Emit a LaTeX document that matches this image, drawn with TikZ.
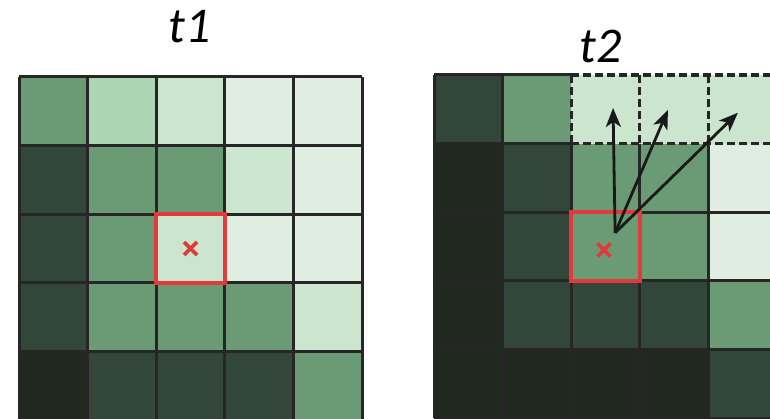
\documentclass[tikz,border=0pt]{standalone}
\usepackage{fontspec}
\setmainfont{Carlito}
\usetikzlibrary{arrows.meta}
\definecolor{gDarkest}{HTML}{212820}
\definecolor{gDark}{HTML}{32463A}
\definecolor{gMid}{HTML}{6A9B74}
\definecolor{gSoft}{HTML}{ACD5B4}
\definecolor{gLight}{HTML}{CBE5CF}
\definecolor{gPale}{HTML}{DFEEE0}
\definecolor{markred}{HTML}{E03A3B}
\begin{document}
\begin{tikzpicture}[x=1pt,y=-1pt,
		gridline/.style={line width=3pt,black!85},
		dashline/.style={line width=3.2pt,black!85,dash pattern=on 8pt off 4pt},
		focusbox/.style={draw=markred,line width=4.5pt},
		crossmark/.style={markred,line width=3.6pt},
		motion/.style={line width=2.8pt,black!90,-{Stealth[length=19pt,width=15pt,inset=5pt]}},
		frametitle/.style={font=\fontsize{50}{60}\selectfont\itshape,anchor=base,inner sep=0pt}]
		\useasboundingbox (0,0) rectangle (770,419);
		\clip (0,0) rectangle (770,419);
		
		\node[frametitle] (t1) at (190,43) {t1};
		\node[frametitle] (t2) at (601,63) {t2};
		
		% frame t1
		\begin{scope}[shift={(19,77)},x=68.6pt,y=-68.6pt]
			\foreach \cols [count=\r] in {{gMid,gSoft,gLight,gPale,gPale},{gDark,gMid,gMid,gLight,gPale},{gDark,gMid,gLight,gPale,gPale},{gDark,gMid,gMid,gMid,gLight},{gDarkest,gDark,gDark,gDark,gMid}}
				\foreach \c [count=\k] in \cols
					\fill[\c] (\k-1,\r-1) rectangle (\k,\r);
			\foreach \i in {0,...,5} {
				\draw[gridline] (\i,0) -- (\i,5);
				\draw[gridline] (0,\i) -- (5,\i);
			}
			\draw[focusbox] (2,2) rectangle (3,3);
			\coordinate (cross1) at (2.5,2.5);
			\draw[crossmark] ([shift={(-6.5pt,-6.5pt)}]cross1) -- ([shift={(6.5pt,6.5pt)}]cross1);
			\draw[crossmark] ([shift={(-6.5pt,6.5pt)}]cross1) -- ([shift={(6.5pt,-6.5pt)}]cross1);
		\end{scope}
		
		% frame t2
		\begin{scope}[shift={(434,75)},x=68.6pt,y=-68.6pt]
			\foreach \cols [count=\r] in {{gDark,gMid,gLight,gLight,gLight},{gDarkest,gDark,gMid,gMid,gPale},{gDarkest,gDark,gMid,gMid,gPale},{gDarkest,gDark,gDark,gDark,gMid},{gDarkest,gDarkest,gDarkest,gDarkest,gDark}}
				\foreach \c [count=\k] in \cols
					\fill[\c] (\k-1,\r-1) rectangle (\k,\r);
			\foreach \i in {0,1}
				\draw[gridline] (\i,0) -- (\i,5);
			\foreach \i in {2,3,4} {
				\draw[gridline] (\i,1) -- (\i,5);
				\draw[dashline] (\i,0) -- (\i,1);
			}
			\foreach \i in {0,1} {
				\draw[gridline] (0,\i) -- (2,\i);
				\draw[dashline] (2,\i) -- (5,\i);
			}
			\foreach \i in {2,...,5}
				\draw[gridline] (0,\i) -- (5,\i);
			\draw[focusbox] (2,2) rectangle (3,3);
			\coordinate (cross2) at (2.478,2.551);
			\draw[crossmark] ([shift={(-6.5pt,-6.5pt)}]cross2) -- ([shift={(6.5pt,6.5pt)}]cross2);
			\draw[crossmark] ([shift={(-6.5pt,6.5pt)}]cross2) -- ([shift={(6.5pt,-6.5pt)}]cross2);
			
			\coordinate (start) at (2.64,2.30);
			\coordinate (up) at (2.61,0.48);
			\coordinate (upright) at (3.41,0.51);
			\coordinate (right) at (4.43,0.55);
			\draw[motion] (start) -- (up);
			\draw[motion] (start) -- (upright);
			\draw[motion] (start) -- (right);
		\end{scope}
	\end{tikzpicture}
\end{document}
